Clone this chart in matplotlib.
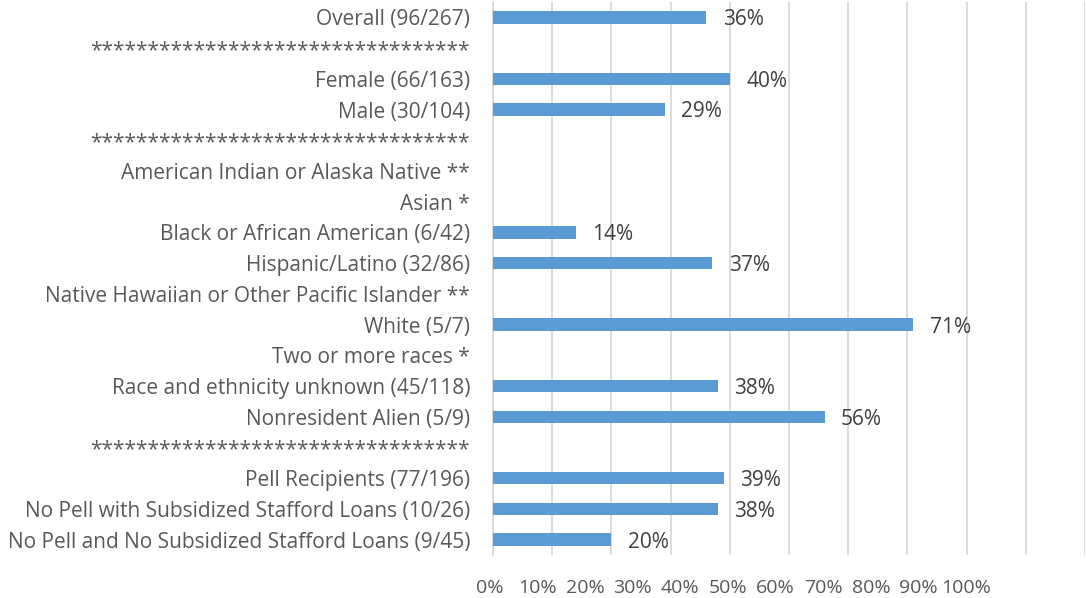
import numpy as np
import matplotlib
matplotlib.use("Agg")
import matplotlib.pyplot as plt

# categories top to bottom, None = no bar shown
STARS = "*" * 33
categories = [
    "Overall (96/267)",
    STARS,
    "Female (66/163)",
    "Male (30/104)",
    STARS,
    "American Indian or Alaska Native **",
    "Asian *",
    "Black or African American (6/42)",
    "Hispanic/Latino (32/86)",
    "Native Hawaiian or Other Pacific Islander **",
    "White (5/7)",
    "Two or more races *",
    "Race and ethnicity unknown (45/118)",
    "Nonresident Alien (5/9)",
    STARS,
    "Pell Recipients (77/196)",
    "No Pell with Subsidized Stafford Loans (10/26)",
    "No Pell and No Subsidized Stafford Loans (9/45)",
]
rates = [0.36, None, 0.40, 0.29, None, None, None, 0.14, 0.37, None,
         0.71, None, 0.38, 0.56, None, 0.39, 0.38, 0.20]
tick_labels = ["0%", "10%", "20%", "30%", "40%", "50%", "60%", "70%",
               "80%", "90%", "100%"]

plt.rcParams["font.family"] = ["Open Sans", "DejaVu Sans"]
FS = 15

W, H = 1086, 598
fig = plt.figure(figsize=(W / 100, H / 100), dpi=100)
ax = fig.add_axes([493 / W, 1 - 555 / H, 592 / W, 553 / H])

ypos = np.arange(len(categories))
vals = np.array([np.nan if v is None else v for v in rates])
ax.barh(ypos, np.nan_to_num(vals), height=0.4, color="#5B9BD5", zorder=3)
for y, v in zip(ypos, vals):
    if not np.isnan(v):
        ax.text(v + 0.028, y + 0.08, f"{v:.0%}", va="center", ha="left",
                fontsize=FS, color="#404040")

ax.set_ylim(len(categories) - 0.5, -0.5)
ax.set_xlim(0, 1)
ax.set_yticks(ypos)
ax.set_yticklabels(categories, fontsize=FS, color="#595959")
ax.tick_params(axis="y", length=0, pad=16.5)

# gridlines every 10%
ax.set_xticks(np.linspace(0, 1, 11))
ax.tick_params(axis="x", length=0, labelbottom=False)
ax.grid(axis="x", color="#D9D9D9", linewidth=1.3, zorder=0)
for s in ["top", "right", "bottom"]:
    ax.spines[s].set_visible(False)
ax.spines["left"].set_color("#D9D9D9")
ax.spines["left"].set_linewidth(1.3)

# percent labels along the bottom (spaced tighter than the gridlines)
ax2 = fig.add_axes([466 / W, 1 - 555 / H, 524 / W, 0.001])
ax2.set_xlim(-5, 105)
ax2.set_xticks(np.arange(0, 101, 10))
ax2.set_xticklabels(tick_labels, fontsize=14, color="#595959")
ax2.tick_params(axis="x", length=0, pad=17)
ax2.set_yticks([])
for s in ax2.spines.values():
    s.set_visible(False)
ax2.patch.set_alpha(0)

fig.savefig("out.png", dpi=100)
